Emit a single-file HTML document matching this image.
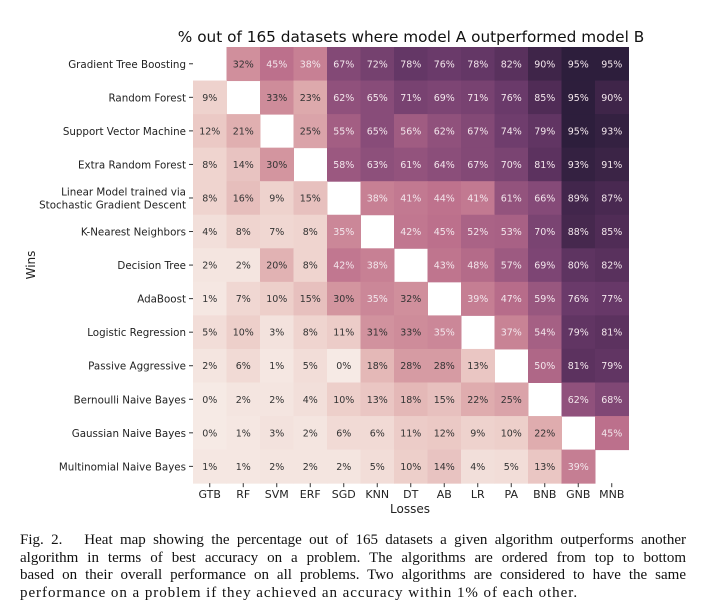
<!DOCTYPE html>
<html><head><meta charset="utf-8"><style>
body{margin:0;background:#fff;width:707px;height:610px;overflow:hidden}
svg text{font-family:"DejaVu Sans","Liberation Sans",sans-serif}
.cap{position:absolute;left:20px;top:532px;width:666px;font-family:"Liberation Serif",serif;font-size:15px;line-height:17.5px;color:#111}
.cap div{text-align:justify;text-align-last:justify;white-space:nowrap}
.cap div.last{text-align-last:left;letter-spacing:0.95px}
</style></head><body>
<svg id="chart" width="707" height="525" style="position:absolute;left:0;top:0"></svg>
<div class="cap">
<div style="white-space:normal">Fig. 2.&nbsp;&nbsp; Heat map showing the percentage out of 165 datasets a given algorithm outperforms another</div>
<div style="white-space:normal">algorithm in terms of best accuracy on a problem. The algorithms are ordered from top to bottom</div>
<div style="white-space:normal">based on their overall performance on all problems. Two algorithms are considered to have the same</div>
<div class="last">performance on a problem if they achieved an accuracy within 1% of each other.</div>
</div>
<script>
const rowLabels=["Gradient Tree Boosting","Random Forest","Support Vector Machine","Extra Random Forest","Linear Model trained via|Stochastic Gradient Descent","K-Nearest Neighbors","Decision Tree","AdaBoost","Logistic Regression","Passive Aggressive","Bernoulli Naive Bayes","Gaussian Naive Bayes","Multinomial Naive Bayes"];
const colLabels=["GTB","RF","SVM","ERF","SGD","KNN","DT","AB","LR","PA","BNB","GNB","MNB"];
const values=[
[null,32,45,38,67,72,78,76,78,82,90,95,95],
[9,null,33,23,62,65,71,69,71,76,85,95,90],
[12,21,null,25,55,65,56,62,67,74,79,95,93],
[8,14,30,null,58,63,61,64,67,70,81,93,91],
[8,16,9,15,null,38,41,44,41,61,66,89,87],
[4,8,7,8,35,null,42,45,52,53,70,88,85],
[2,2,20,8,42,38,null,43,48,57,69,80,82],
[1,7,10,15,30,35,32,null,39,47,59,76,77],
[5,10,3,8,11,31,33,35,null,37,54,79,81],
[2,6,1,5,0,18,28,28,13,null,50,81,79],
[0,2,2,4,10,13,18,15,22,25,null,62,68],
[0,1,3,2,6,6,11,12,9,10,22,null,45],
[1,1,2,2,2,5,10,14,4,5,13,39,null]];
const stops=[[0,[246,234,229]],[10,[237,207,202]],[22,[223,172,174]],[33,[206,140,154]],[45,[188,112,140]],[56,[160,92,130]],[65,[136,76,121]],[76,[106,58,106]],[85,[80,44,86]],[95,[45,30,60]]];
function color(v){for(let i=1;i<stops.length;i++){if(v<=stops[i][0]){const [a,ca]=stops[i-1],[b,cb]=stops[i];const t=(v-a)/(b-a);return`rgb(${ca.map((c,k)=>Math.round(c+(cb[k]-c)*t)).join(',')})`;}}return`rgb(${stops[stops.length-1][1].join(',')})`;}
const X0=193,Y0=47,CW=33.5,CH=33.55;
const xPos=j=>X0+j*CW, yPos=i=>Y0+i*CH;
const svg=document.getElementById('chart');const NS="http://www.w3.org/2000/svg";
function el(t,a,txt){const e=document.createElementNS(NS,t);for(const k in a)e.setAttribute(k,a[k]);if(txt!=null)e.textContent=txt;svg.appendChild(e);return e;}
const title=el('text',{x:411,y:42,'text-anchor':'middle','font-size':15.3,fill:'#111'},'% out of 165 datasets where model A outperformed model B');


values.forEach((row,i)=>row.forEach((v,j)=>{if(v==null)return;
const r=el('rect',{x:xPos(j),y:yPos(i),width:CW+0.5,height:CH+0.5,fill:color(v)});


const t=el('text',{x:xPos(j)+CW/2,y:yPos(i)+CH/2+3.5,'text-anchor':'middle','font-size':9.5,fill:v>=35?'#f3e6ec':'#333'},v+'%');


}));
rowLabels.forEach((l,i)=>{const y=yPos(i)+CH/2;
el('line',{x1:X0-4,x2:X0,y1:y,y2:y,stroke:'#333','stroke-width':1});
const parts=l.split('|');
parts.forEach((p,k)=>{const t=el('text',{x:X0-7,y:y+4+(k-(parts.length-1)/2)*13,'text-anchor':'end','font-size':10.3,fill:'#222'},p);

});
});
colLabels.forEach((l,j)=>{const x=xPos(j)+CW/2;
el('line',{x1:x,x2:x,y1:Y0+13*CH,y2:Y0+13*CH+4,stroke:'#333','stroke-width':1});
const t=el('text',{x:x,y:498,'text-anchor':'middle','font-size':11,fill:'#222'},l);

});
const xl=el('text',{x:410,y:513,'text-anchor':'middle','font-size':12,fill:'#222'},'Losses');


const yl=el('text',{x:0,y:0,'text-anchor':'middle','font-size':12,fill:'#222',transform:'translate(35,265) rotate(-90)'},'Wins');


</script>
</body></html>
